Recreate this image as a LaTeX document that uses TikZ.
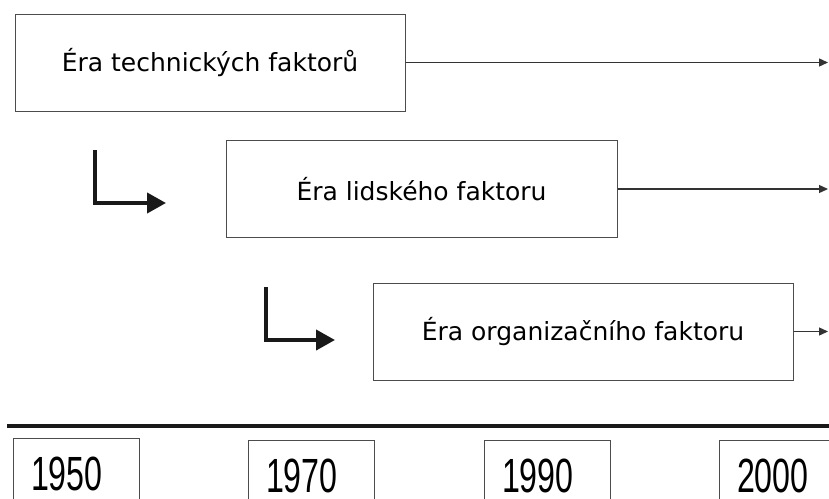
\documentclass[tikz,border=0pt]{standalone}
\usepackage{fontspec}
\setmainfont{DejaVu Sans}
\newfontfamily\yearfont[FakeStretch=0.67]{Liberation Sans}
\usetikzlibrary{arrows.meta,positioning}

\tikzset{
	erabox/.style={draw=black!70, line width=1pt, minimum height=97pt, font=\fontsize{25}{30}\selectfont},
	yearbox/.style={draw=black!70, line width=1pt, minimum height=66pt, inner xsep=18pt, text width=90pt, text height=42pt, text depth=4pt, align=left, anchor=north, font=\yearfont\fontsize{48}{48}\selectfont},
	timearrow/.style={draw=black!80, line width=1.3pt, -{Triangle[length=9pt,width=8pt]}},
	steparrow/.style={draw=black!90, line width=4pt, -{Triangle[length=19pt,width=20pt]}}
}

\begin{document}
\begin{tikzpicture}[x=1pt,y=-1pt]
		\useasboundingbox (0,0) rectangle (829,498);
		\clip (0,0) rectangle (829,498);
		\node[erabox, minimum width=390pt] (tech) at (210,62.5) {Éra technických faktorů};
		\node[erabox, minimum width=391pt] (human) at (421.5,189) {Éra lidského faktoru};
		\node[erabox, minimum width=420pt] (org) at (583,331.5) {Éra organizačního faktoru};
		\coordinate (techend) at (828,62.5);
		\coordinate (humanend) at (828,189);
		\coordinate (orgend) at (828,331.5);
		\draw[timearrow] (tech) -- (techend);
		\draw[timearrow] (human) -- (humanend);
		\draw[timearrow] (org) -- (orgend);
		\coordinate (s1) at (95,150);
		\coordinate (e1) at (166,203);
		\coordinate (s2) at (266,287);
		\coordinate (e2) at (335,340);
		\draw[steparrow] (s1) |- (e1);
		\draw[steparrow] (s2) |- (e2);
		\coordinate (axisleft) at (7,426);
		\coordinate (axisright) at (829,426);
		\draw[line width=4pt, black!90] (axisleft) -- (axisright);
		\node[yearbox] (y1950) at (76,438) {1950};
		\node[yearbox] (y1970) at (311,440) {1970};
		\node[yearbox] (y1990) at (547,440) {1990};
		\node[yearbox] (y2000) at (782,440) {2000};
\end{tikzpicture}
\end{document}
